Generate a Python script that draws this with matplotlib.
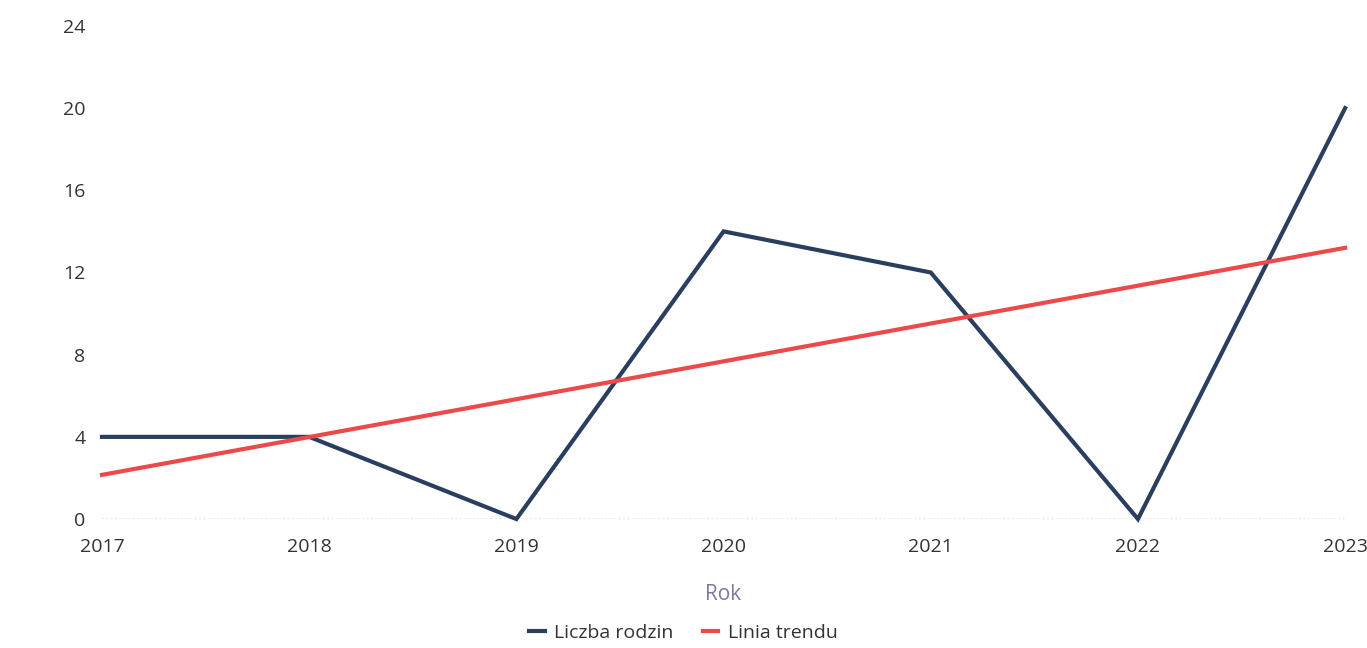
import matplotlib
matplotlib.use('Agg')
import matplotlib.pyplot as plt

plt.rcParams['font.family'] = ['Open Sans', 'DejaVu Sans']

years = [2017, 2018, 2019, 2020, 2021, 2022, 2023]
families = [4, 4, 0, 14, 12, 0, 20]
trend_years = [2017, 2023]
trend_values = [2.15, 13.2]
y_ticks = [0, 4, 8, 12, 16, 20, 24]

colors = {'families': '#2a3f5f', 'trend': '#ec4a4a'}

fig = plt.figure(figsize=(13.67, 6.48), dpi=100)
ax = fig.add_axes([0.0746, 0.199, 0.9094, 0.761])

ax.plot(years, families, '-', color=colors['families'], lw=3, label='Liczba rodzin',
        solid_joinstyle='miter', clip_on=False)
ax.plot(trend_years, trend_values, '-', color=colors['trend'], lw=3, label='Linia trendu',
        clip_on=False)

ax.set_xlim(2017, 2023)
ax.set_ylim(0, 24)
ax.set_yticks(y_ticks)
ax.set_xticks(years)
ax.tick_params(length=0, labelsize=14, labelcolor='#333333')
ax.tick_params(axis='y', pad=12)
ax.tick_params(axis='x', pad=14)
ax.set_xticklabels([str(y) for y in years])

for s in ax.spines.values():
    s.set_visible(False)
# only the baseline shows as a faint dotted line
ax.axhline(0, color='#e2e2e2', ls=':', lw=1.2, zorder=0)

ax.set_xlabel('Rok', fontsize=15, color='#7b7a9c', labelpad=20)

leg = fig.legend(loc='lower center', bbox_to_anchor=(0.5, -0.018), ncol=2, frameon=False,
                 fontsize=14, handlelength=0.8, handletextpad=0.5, columnspacing=1.5)
for line in leg.get_lines():
    line.set_linewidth(3)
for t in leg.get_texts():
    t.set_color('#333333')

fig.savefig('out.png', dpi=100)
